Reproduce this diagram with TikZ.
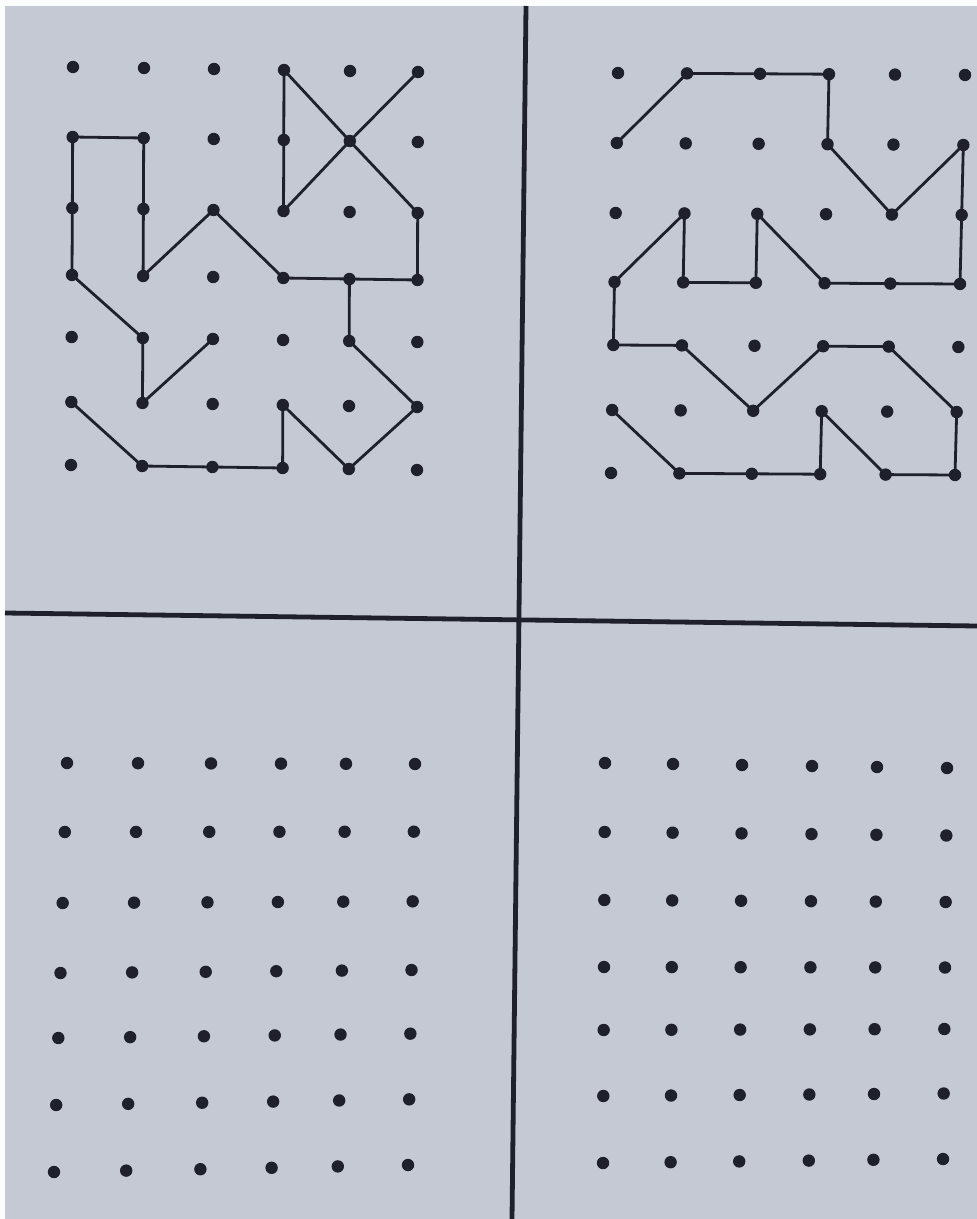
\documentclass[tikz,border=0pt]{standalone}
\usepackage{tikz}
\definecolor{paper}{RGB}{196,201,211}
\definecolor{ink}{RGB}{30,32,44}
\tikzset{
  griddot/.style={circle, fill=ink, inner sep=0pt, minimum size=6.2pt},
  figline/.style={draw=ink, line width=1.4pt, line join=round, line cap=round},
  divider/.style={draw=ink, line width=2.4pt}
}
% #1 name, #2 column x list (row 0), #3 row y list (col 0),
% #4 x shift of col 0 over all rows, #5 x shift of col 5 over all rows,
% #6 y shift of row 0 over all cols, #7 y shift of row 6 over all cols
\newcommand{\mydotgrid}[7]{%
  \def\mycols{{#2}}%
  \def\myrows{{#3}}%
  \foreach \c in {0,...,5}{%
    \foreach \r in {0,...,6}{%
      \pgfmathsetmacro{\u}{\c/5}%
      \pgfmathsetmacro{\v}{\r/6}%
      \pgfmathsetmacro{\bx}{\mycols[\c]}%
      \pgfmathsetmacro{\by}{\myrows[\r]}%
      \pgfmathsetmacro{\px}{\bx+\v*((1-\u)*(#4)+\u*(#5))}%
      \pgfmathsetmacro{\py}{\by+\u*((1-\v)*(#6)+\v*(#7))}%
      \node[griddot] (#1-\c-\r) at (\px,\py) {};%
    }%
  }%
}
\begin{document}
\begin{tikzpicture}[x=0.5pt,y=-0.5pt]
  \fill[white!94!paper] (0,0) rectangle (977,1219);
  \fill[paper] (5,6) rectangle (977,1219);
  \useasboundingbox (0,0) rectangle (977,1219);

  % dividers
  \coordinate (vt) at (526,6);
  \coordinate (vb) at (512,1219);
  \coordinate (hl) at (5,613);
  \coordinate (hr) at (977,626);
  \draw[divider] (vt) -- (vb);
  \draw[divider] (hl) -- (hr);

  % dot grids
  \mydotgrid{A}{73,144,214,284,350,418}{67,137,208,275,337,402,465}{-2}{-1}{5}{5}
  \mydotgrid{B}{618,687,760,829,895,965}{73,143,213,282,345,410,473}{-7}{-10}{2}{2}
  \mydotgrid{C}{67,138,211,281,346,415}{763,832,903,973,1038,1105,1172}{-13}{-7}{1}{-7}
  \mydotgrid{D}{605,673,742,812,877,947}{763,832,900,967,1030,1096,1163}{-2}{-4}{5}{-4}

  % top-left figure
  \draw[figline] (A-3-2.center) -- (A-3-1.center) -- (A-3-0.center) -- (A-4-1.center) -- (A-5-2.center)
    -- (A-5-3.center) -- (A-4-3.center) -- (A-3-3.center) -- (A-2-2.center) -- (A-1-3.center)
    -- (A-1-2.center) -- (A-1-1.center) -- (A-0-1.center) -- (A-0-2.center) -- (A-0-3.center)
    -- (A-1-4.center) -- (A-1-5.center) -- (A-2-4.center);
  \draw[figline] (A-5-0.center) -- (A-4-1.center) -- (A-3-2.center);
  \draw[figline] (A-0-5.center) -- (A-1-6.center) -- (A-2-6.center) -- (A-3-6.center) -- (A-3-5.center)
    -- (A-4-6.center) -- (A-5-5.center) -- (A-4-4.center) -- (A-4-3.center);

  % top-right figure
  \draw[figline] (B-0-1.center) -- (B-1-0.center) -- (B-2-0.center) -- (B-3-0.center) -- (B-3-1.center)
    -- (B-4-2.center) -- (B-5-1.center) -- (B-5-2.center) -- (B-5-3.center) -- (B-4-3.center)
    -- (B-3-3.center) -- (B-2-2.center) -- (B-2-3.center) -- (B-1-3.center) -- (B-1-2.center)
    -- (B-0-3.center) -- (B-0-4.center) -- (B-1-4.center) -- (B-2-5.center) -- (B-3-4.center)
    -- (B-4-4.center) -- (B-5-5.center) -- (B-5-6.center) -- (B-4-6.center) -- (B-3-5.center)
    -- (B-3-6.center) -- (B-2-6.center) -- (B-1-6.center) -- (B-0-5.center);
\end{tikzpicture}
\end{document}
